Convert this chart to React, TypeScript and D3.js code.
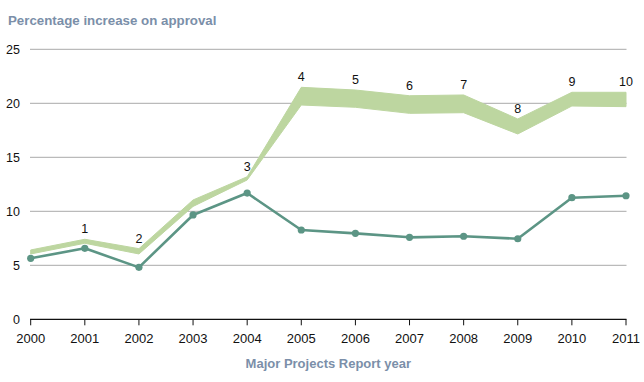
import React from "react";
import * as d3 from "d3";

const years = [2000, 2001, 2002, 2003, 2004, 2005, 2006, 2007, 2008, 2009, 2010, 2011];
const darkSeries = [5.65, 6.57, 4.81, 9.66, 11.69, 8.27, 7.96, 7.59, 7.69, 7.46, 11.26, 11.44];
const bandLower = [6.05, 7.04, 6.05, 10.45, 12.9, 19.84, 19.63, 19.07, 19.13, 17.16, 19.75, 19.69];
const bandUpper = [6.42, 7.41, 6.54, 11.05, 13.2, 21.48, 21.23, 20.7, 20.77, 18.55, 21.02, 21.02];
const pointLabels = ["", "1", "2", "", "3", "4", "5", "6", "7", "8", "9", "10"];
const yTicks = [0, 5, 10, 15, 20, 25];
const title = "Percentage increase on approval";
const xTitle = "Major Projects Report year";

const W = 644;
const H = 382;
const FONT = "'Liberation Sans', Arial, Helvetica, sans-serif";

export default function App() {
  const x = d3.scaleLinear().domain([2000, 2011]).range([30.7, 626]);
  const y = d3.scaleLinear().domain([0, 25]).range([319.3, 49.3]);

  const area = d3
    .area<number>()
    .x((_, i) => x(years[i]))
    .y0((_, i) => y(bandLower[i]))
    .y1((_, i) => y(bandUpper[i]));

  const line = d3
    .line<number>()
    .x((_, i) => x(years[i]))
    .y((d) => y(d));

  const labels = years
    .map((yr, i) => ({ lab: pointLabels[i], yr, v: bandUpper[i] }))
    .filter((d) => d.lab !== "");

  return (
    <svg
      width={W}
      height={H}
      style={{ position: "absolute", left: 0, top: 0, background: "#fff" }}
      fontFamily={FONT}
    >
      <text x={8} y={25} fontSize={13.3} fontWeight="bold" fill="#7b8fa9">
        {title}
      </text>

      {yTicks.map((t) => (
        <g key={t}>
          {t !== 0 && (
            <line x1={30} x2={626.5} y1={y(t)} y2={y(t)} stroke="#a9a9a9" strokeWidth={1} />
          )}
          <text x={20} y={y(t)} dy="0.35em" textAnchor="end" fontSize={12.5} fill="#111">
            {t}
          </text>
        </g>
      ))}

      <path d={area(bandUpper) || ""} fill="#bdd6a0" stroke="#bdd6a0" strokeWidth={1} />

      <path d={line(darkSeries) || ""} fill="none" stroke="#5c9585" strokeWidth={2.6} strokeLinejoin="round" />
      {darkSeries.map((v, i) => (
        <circle key={i} cx={x(years[i])} cy={y(v)} r={3.6} fill="#5c9585" />
      ))}

      {labels.map((d) => (
        <text key={d.lab} x={x(d.yr)} y={y(d.v) - 6} textAnchor="middle" fontSize={12.5} fill="#111">
          {d.lab}
        </text>
      ))}

      <line x1={30} x2={626.5} y1={y(0)} y2={y(0)} stroke="#111" strokeWidth={1.2} />
      {years.map((yr) => (
        <g key={yr}>
          <line x1={x(yr)} x2={x(yr)} y1={y(0)} y2={y(0) + 6} stroke="#111" strokeWidth={1} />
          <text x={x(yr)} y={343.3} textAnchor="middle" fontSize={13} fill="#111">
            {yr}
          </text>
        </g>
      ))}

      <text x={(x(2000) + x(2011)) / 2} y={368.3} textAnchor="middle" fontSize={13} fontWeight="bold" fill="#7b8fa9">
        {xTitle}
      </text>
    </svg>
  );
}
